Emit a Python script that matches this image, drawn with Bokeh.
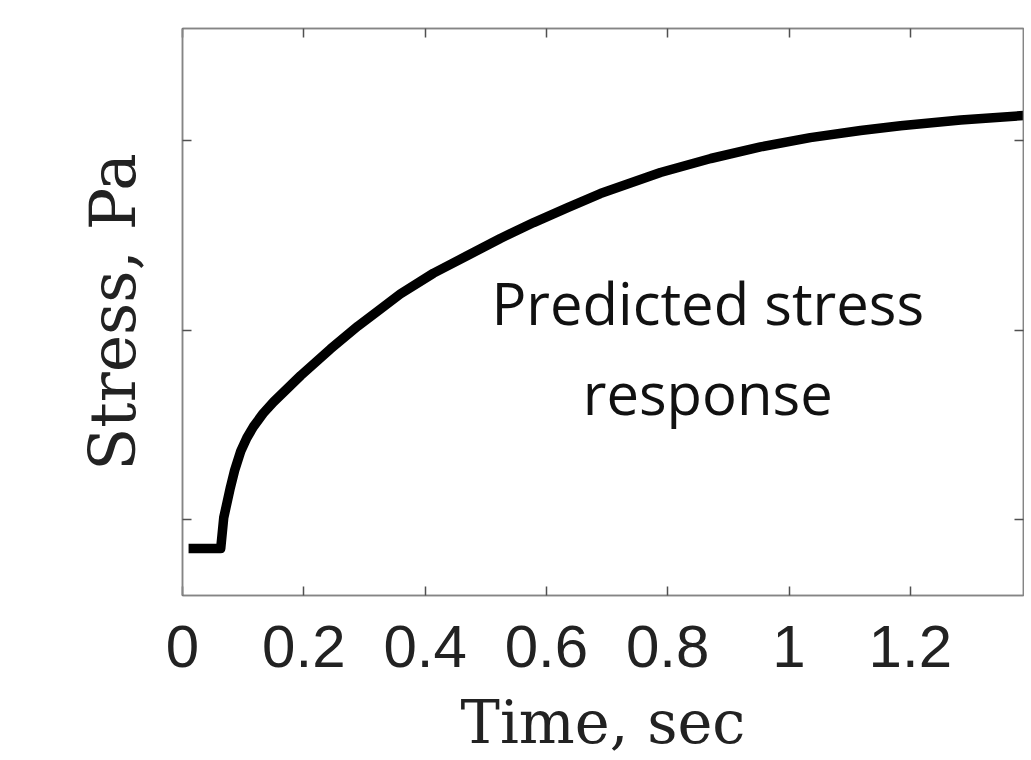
from bokeh.plotting import figure
from bokeh.models import LinearAxis, FixedTicker, Range1d, Label, CustomLabelingPolicy
from bokeh.embed import file_html
from bokeh.resources import INLINE

# Data
time_s = [0.010, 0.063, 0.068, 0.079, 0.086, 0.096, 0.106, 0.117, 0.133, 0.150,
          0.195, 0.244, 0.289, 0.326, 0.359, 0.414, 0.470, 0.524, 0.579, 0.635,
          0.689, 0.788, 0.871, 0.953, 1.035, 1.118, 1.184, 1.283, 1.387]
stress = [0.847, 0.847, 1.010, 1.170, 1.260, 1.360, 1.430, 1.490, 1.560, 1.620,
          1.760, 1.900, 2.020, 2.110, 2.190, 2.300, 2.393, 2.483, 2.567, 2.646,
          2.720, 2.831, 2.905, 2.966, 3.015, 3.053, 3.078, 3.108, 3.132]

x_ticks = [0, 0.2, 0.4, 0.6, 0.8, 1.0, 1.2]
x_tick_labels = ["0", "0.2", "0.4", "0.6", "0.8", "1", "1.2"]
y_ticks = [1, 2, 3]

x_title = "Time, sec"
y_title = "Stress, Pa"
annotation_lines = ["Predicted stress", "response"]

AXIS_COLOR = "#858585"
TICK_COLOR = "#505050"
X_MAX = 1.3866

p = figure(width=1024, height=760, output_backend="svg", toolbar_location=None,
           x_range=Range1d(0, X_MAX), y_range=Range1d(0.599, 3.591),
           min_border_left=182, min_border_right=1, min_border_top=28,
           min_border_bottom=165)
p.grid.visible = False
p.outline_line_color = AXIS_COLOR
p.outline_line_width = 1.5

p.line(time_s, stress, line_color="black", line_width=9.5, line_join="round")

no_labels = CustomLabelingPolicy(
    code="const all = Array.from(indices); for (const i of all) indices.unset(i); return indices")

def style_axis(ax, show_labels=False):
    ax.axis_line_color = AXIS_COLOR
    ax.axis_line_width = 1.5
    ax.major_tick_line_color = TICK_COLOR
    ax.major_tick_line_width = 1.5
    ax.major_tick_in = 9
    ax.major_tick_out = 0
    ax.minor_tick_line_color = None
    if not show_labels:
        ax.major_label_text_font_size = "0px"
        ax.major_label_standoff = 0
        ax.major_label_policy = no_labels

# bottom x axis
xa = p.xaxis[0]
xa.ticker = FixedTicker(ticks=x_ticks)
xa.major_label_overrides = {t: l for t, l in zip(x_ticks, x_tick_labels)}
style_axis(xa, show_labels=True)
xa.major_label_text_font = "Liberation Sans"
xa.major_label_text_font_size = "60px"
xa.major_label_text_color = "#222222"
xa.major_label_text_line_height = 0.9
xa.major_label_standoff = 30
xa.axis_label = x_title
xa.axis_label_text_font = "DejaVu Serif"
xa.axis_label_text_font_size = "59px"
xa.axis_label_text_font_style = "normal"
xa.axis_label_text_color = "#222222"
xa.axis_label_text_line_height = 0.9
xa.axis_label_standoff = 18

# left y axis
ya = p.yaxis[0]
ya.ticker = FixedTicker(ticks=y_ticks)
style_axis(ya)
ya.axis_label = y_title
ya.axis_label_text_font = "DejaVu Serif"
ya.axis_label_text_font_size = "63px"
ya.axis_label_text_font_style = "normal"
ya.axis_label_text_color = "#222222"
ya.axis_label_standoff = 33

# top and right axes (ticks only)
top = LinearAxis(ticker=FixedTicker(ticks=x_ticks))
style_axis(top)
p.add_layout(top, "above")
right = LinearAxis(ticker=FixedTicker(ticks=y_ticks))
style_axis(right)
p.add_layout(right, "right")

# annotation
ann_y = [2.145, 1.67]
for txt, yy in zip(annotation_lines, ann_y):
    p.add_layout(Label(x=0.866, y=yy, text=txt, text_align="center",
                       text_baseline="alphabetic", text_font="Open Sans",
                       text_font_size="58px", text_color="#111111"))

open("out.html", "w").write(file_html(p, INLINE))
